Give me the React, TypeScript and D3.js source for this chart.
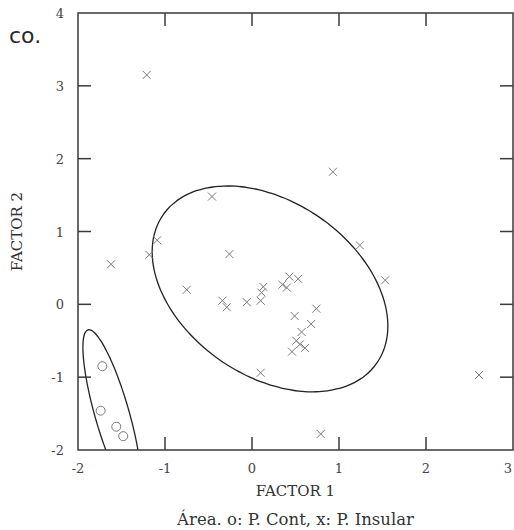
import React from "react";
import * as d3 from "d3";

// Factor scores, island population (x markers)
const insularF1 = [
  -1.21, 0.93, -0.46, -1.09, -1.18, -1.62, -0.26, 1.24, -0.75, 1.53, 2.61, 0.79,
  -0.34, -0.29, -0.06, 0.13, 0.11, 0.1, 0.35, 0.4, 0.43, 0.53, 0.74, 0.49, 0.68,
  0.57, 0.51, 0.55, 0.46, 0.61, 0.1,
];
const insularF2 = [
  3.15, 1.82, 1.48, 0.88, 0.68, 0.55, 0.69, 0.81, 0.2, 0.33, -0.97, -1.78,
  0.05, -0.04, 0.03, 0.24, 0.16, 0.05, 0.27, 0.23, 0.38, 0.35, -0.06, -0.16, -0.27,
  -0.38, -0.5, -0.55, -0.65, -0.6, -0.94,
];

// Factor scores, continental population (o markers)
const contF1 = [-1.72, -1.74, -1.56, -1.48];
const contF2 = [-0.85, -1.46, -1.68, -1.81];

// Group ellipses: centre and two conjugate half-axis vectors, in factor units
const insularEllipse = { cx: 0.207, cy: 0.212, ux: 1.229, uy: -1.016, vx: -0.569, vy: -0.982 };
const contEllipse = { cx: -1.609, cy: -1.505, ux: -0.276, uy: 1.154, vx: 0.189, vy: 0.0646 };

const xTicks = [-2, -1, 0, 1, 2, 3];
const yTicks = [-2, -1, 0, 1, 2, 3, 4];

const W = 514;
const H = 530;
const left = 78;
const right = 513;
const top = 13;
const bottom = 450;
const tickLen = 13;
const serif = "'DejaVu Serif', serif";

export default function App() {
  const x = d3.scaleLinear().domain([-2, 3]).range([left, right]);
  const y = d3.scaleLinear().domain([-2, 4]).range([bottom, top]);

  const ellipsePath = (e: typeof insularEllipse) => {
    const ts = d3.range(0, 361, 3).map((deg) => (deg * Math.PI) / 180);
    const line = d3
      .line<number>()
      .x((t) => x(e.cx + e.ux * Math.cos(t) + e.vx * Math.sin(t)))
      .y((t) => y(e.cy + e.uy * Math.cos(t) + e.vy * Math.sin(t)))
      .curve(d3.curveCatmullRomClosed);
    return line(ts.slice(0, -1)) || "";
  };

  const cross = 4;
  const axisColor = "#3a3a3a";
  const markColor = "#7a7a7a";

  // keep the last x label inside the drawing width
  const xLabelPos = (t: number) => Math.min(x(t), W - 6);

  return (
    <div style={{ position: "absolute", left: 0, top: 0 }}>
      <svg width={W} height={H} style={{ display: "block", background: "#fff" }}>
        <defs>
          <clipPath id="plotArea">
            <rect x={left} y={top} width={right - left} height={bottom - top} />
          </clipPath>
        </defs>

        <text x={9} y={43} fontFamily="'DejaVu Sans', sans-serif" fontSize={22} fill="#2a2a2a">
          co.
        </text>

        {/* ellipses */}
        <g clipPath="url(#plotArea)" fill="none" stroke="#222" strokeWidth={1.3}>
          <path d={ellipsePath(insularEllipse)} />
          <path d={ellipsePath(contEllipse)} />
        </g>

        {/* island population */}
        <g stroke={markColor} strokeWidth={1}>
          {insularF1.map((v, i) => {
            const px = x(v);
            const py = y(insularF2[i]);
            return (
              <g key={i}>
                <line x1={px - cross} y1={py - cross} x2={px + cross} y2={py + cross} />
                <line x1={px - cross} y1={py + cross} x2={px + cross} y2={py - cross} />
              </g>
            );
          })}
        </g>

        {/* continental population */}
        <g stroke={markColor} strokeWidth={1} fill="none">
          {contF1.map((v, i) => (
            <circle key={i} cx={x(v)} cy={y(contF2[i])} r={4.5} />
          ))}
        </g>

        {/* frame */}
        <rect
          x={left}
          y={top}
          width={right - left}
          height={bottom - top}
          fill="none"
          stroke={axisColor}
          strokeWidth={1.5}
        />

        {/* ticks */}
        <g stroke={axisColor} strokeWidth={1.5}>
          {xTicks.slice(1, -1).map((t) => (
            <g key={"x" + t}>
              <line x1={x(t)} x2={x(t)} y1={bottom} y2={bottom - tickLen} />
              <line x1={x(t)} x2={x(t)} y1={top} y2={top + tickLen} />
            </g>
          ))}
          {yTicks.slice(1, -1).map((t) => (
            <g key={"y" + t}>
              <line x1={left} x2={left + tickLen} y1={y(t)} y2={y(t)} />
              <line x1={right} x2={right - tickLen} y1={y(t)} y2={y(t)} />
            </g>
          ))}
        </g>

        {/* tick labels */}
        <g fontFamily={serif} fontSize={13} fill="#444">
          {xTicks.map((t) => (
            <text key={"xl" + t} x={xLabelPos(t)} y={473} textAnchor="middle">
              {t}
            </text>
          ))}
          {yTicks.map((t) => (
            <text key={"yl" + t} x={64} y={y(t) + 5} textAnchor="end">
              {t}
            </text>
          ))}
        </g>

        {/* axis titles */}
        <text
          x={(left + right) / 2}
          y={496}
          textAnchor="middle"
          fontFamily={serif}
          fontSize={15}
          fill="#333"
        >
          FACTOR 1
        </text>
        <text
          transform={`translate(22, ${(top + bottom) / 2}) rotate(-90)`}
          textAnchor="middle"
          fontFamily={serif}
          fontSize={15}
          fill="#333"
        >
          FACTOR 2
        </text>

        <text
          x={(left + right) / 2}
          y={525}
          textAnchor="middle"
          fontFamily={serif}
          fontSize={16.5}
          fill="#333"
        >
          Área. o: P. Cont, x: P. Insular
        </text>
      </svg>
    </div>
  );
}
